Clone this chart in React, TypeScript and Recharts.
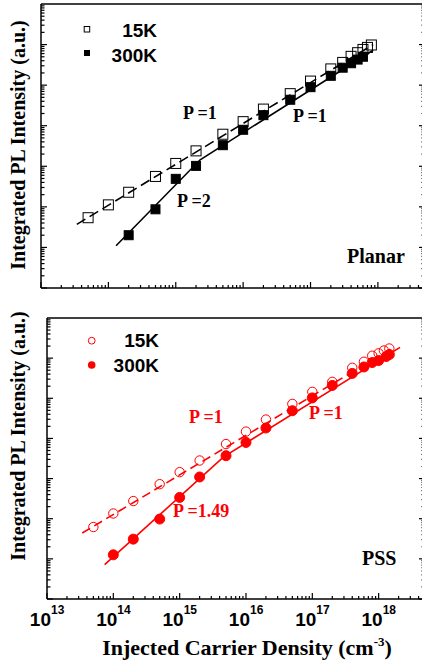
import React from 'react';
import { ComposedChart, Scatter, XAxis, YAxis } from 'recharts';

// x axis decades and their exponent labels
const xDecades = [1e13, 1e14, 1e15, 1e16, 1e17, 1e18];
const xExponents = ['13', '14', '15', '16', '17', '18'];
const xDomain = [1e13, 5e18];
const yDecades = [1, 10, 100, 1e3, 1e4, 1e5, 1e6];
const yDomain = [1, 1e7];

// Planar sample
const planar15K = [
  { x: 5e13, y: 54 }, { x: 1e14, y: 112 }, { x: 2e14, y: 229 }, { x: 5e14, y: 562 },
  { x: 1e15, y: 1175 }, { x: 2e15, y: 2399 }, { x: 5e15, y: 6166 }, { x: 1e16, y: 12590 },
  { x: 2e16, y: 25700 }, { x: 5e16, y: 61660 }, { x: 1e17, y: 125900 }, { x: 2e17, y: 251200 },
  { x: 3e17, y: 363100 }, { x: 4e17, y: 512900 }, { x: 5e17, y: 631000 }, { x: 6e17, y: 758600 },
  { x: 7e17, y: 851100 }, { x: 8e17, y: 977200 },
];
const planar300K = [
  { x: 2e14, y: 20 }, { x: 5e14, y: 87 }, { x: 1e15, y: 490 }, { x: 2e15, y: 1023 },
  { x: 5e15, y: 3311 }, { x: 1e16, y: 7943 }, { x: 2e16, y: 18200 }, { x: 5e16, y: 43650 },
  { x: 1e17, y: 89130 }, { x: 2e17, y: 169800 }, { x: 3e17, y: 269200 }, { x: 4e17, y: 346700 },
  { x: 5e17, y: 426600 }, { x: 6e17, y: 501200 },
];
const planarFit15K = [{ x: 3.4e13, y: 37 }, { x: 8.5e17, y: 1000000 }];
const planarFit300K = [{ x: 1.3e14, y: 11 }, { x: 2.3e15, y: 1445 }, { x: 8.5e17, y: 724400 }];

// PSS sample
const pss15K = [
  { x: 5e13, y: 62 }, { x: 1e14, y: 135 }, { x: 2e14, y: 275 }, { x: 5e14, y: 724 },
  { x: 1e15, y: 1445 }, { x: 2e15, y: 2818 }, { x: 5e15, y: 7244 }, { x: 1e16, y: 14790 },
  { x: 2e16, y: 29510 }, { x: 5e16, y: 72440 }, { x: 1e17, y: 144500 }, { x: 2e17, y: 257000 },
  { x: 4e17, y: 575400 }, { x: 6e17, y: 812800 }, { x: 8e17, y: 1148000 }, { x: 1e18, y: 1318000 },
  { x: 1.2e18, y: 1549000 }, { x: 1.45e18, y: 1738000 },
];
const pss300K = [
  { x: 1e14, y: 12.6 }, { x: 2e14, y: 31 }, { x: 5e14, y: 98 }, { x: 1e15, y: 339 },
  { x: 2e15, y: 1096 }, { x: 5e15, y: 3715 }, { x: 1e16, y: 7943 }, { x: 2e16, y: 18200 },
  { x: 5e16, y: 48980 }, { x: 1e17, y: 102300 }, { x: 2e17, y: 208900 }, { x: 4e17, y: 416900 },
  { x: 6e17, y: 602600 }, { x: 8e17, y: 776200 }, { x: 1e18, y: 871000 }, { x: 1.3e18, y: 1096000 },
  { x: 1.45e18, y: 1230000 },
];
const pssFit15K = [{ x: 3.4e13, y: 44 }, { x: 1.5e18, y: 1660000 }];
const pssFit300K = [{ x: 7.4e13, y: 7.2 }, { x: 4.6e15, y: 3467 }, { x: 2.1e18, y: 1862000 }];

const RED = '#ff0000';
const SERIF = '"Liberation Serif", "Times New Roman", serif';
const SANS = '"Liberation Sans", Arial, sans-serif';

const withMinors = (decades: number[], domain: number[]) =>
  decades
    .flatMap((d) => [1, 2, 3, 4, 5, 6, 7, 8, 9].map((m) => d * m))
    .filter((v) => v >= domain[0] && v <= domain[1]);

const xTicks = withMinors(xDecades, xDomain);
const yTicks = withMinors(yDecades, yDomain);

const isDecade = (v: number) => Math.abs(Math.log10(v) - Math.round(Math.log10(v))) < 1e-6;

const makeXTick = (dir: number, showLabel: boolean) => (props: any) => {
  const { x, y, payload } = props;
  const major = isDecade(payload.value);
  const idx = xDecades.findIndex((d) => Math.abs(d - payload.value) / d < 1e-6);
  return (
    <g>
      <line x1={x} y1={y} x2={x} y2={y + dir * (major ? 6 : 3)} stroke="#000" strokeWidth={1.2} />
      {showLabel && major && idx >= 0 && (
        <g fontFamily={SANS} fontWeight="bold" fill="#000">
          <text x={x + 4} y={y + 27} textAnchor="end" fontSize={19}>10</text>
          <text x={x + 4} y={y + 15} textAnchor="start" fontSize={12}>{xExponents[idx]}</text>
        </g>
      )}
    </g>
  );
};

const makeYTick = (dir: number) => (props: any) => {
  const { x, y, payload } = props;
  const major = isDecade(payload.value);
  return <line x1={x} y1={y} x2={x + dir * (major ? 6 : 3.5)} y2={y} stroke="#000" strokeWidth={1.2} />;
};

const squareShape = (size: number, filled: boolean) => (props: any) => {
  const { cx, cy } = props;
  return (
    <rect x={cx - size / 2} y={cy - size / 2} width={size} height={size}
      fill={filled ? '#000' : 'none'} stroke="#000" strokeWidth={1} />
  );
};

const circleShape = (r: number, filled: boolean) => (props: any) => {
  const { cx, cy } = props;
  return <circle cx={cx} cy={cy} r={r} fill={filled ? RED : 'none'} stroke={RED} strokeWidth={1} />;
};

const noShape = () => <g />;

const axisLine = { stroke: '#000', strokeWidth: 1.5 };

type PanelProps = {
  top: number;
  height: number;
  margin: { top: number; left: number; right: number; bottom: number };
  labels: boolean;
  children: React.ReactNode;
};

// axes are 1px wide bands, so margins are one pixel short of the plot box
const Panel = ({ top, height, margin, labels, children }: PanelProps) => (
  <div style={{ position: 'absolute', left: 0, top }}>
    <ComposedChart width={430} height={height} margin={margin}>
      <XAxis dataKey="x" type="number" scale="log" domain={xDomain} allowDataOverflow
        ticks={xTicks} interval={0} height={1} tickSize={0} tickMargin={0} tickLine={false}
        axisLine={axisLine} tick={makeXTick(-1, labels)} />
      <XAxis xAxisId="top" orientation="top" type="number" scale="log" domain={xDomain} allowDataOverflow
        ticks={xTicks} interval={0} height={1} tickSize={0} tickMargin={0} tickLine={false}
        axisLine={axisLine} tick={makeXTick(1, false)} />
      <YAxis dataKey="y" type="number" scale="log" domain={yDomain} allowDataOverflow
        ticks={yTicks} interval={0} width={1} tickSize={0} tickMargin={0} tickLine={false}
        axisLine={axisLine} tick={makeYTick(1)} />
      <YAxis yAxisId="right" orientation="right" type="number" scale="log" domain={yDomain} allowDataOverflow
        ticks={yTicks} interval={0} width={1} tickSize={0} tickMargin={0} tickLine={false}
        axisLine={axisLine} tick={makeYTick(-1)} />
      {children}
    </ComposedChart>
  </div>
);

export default function App() {
  return (
    <div style={{ position: 'absolute', left: 0, top: 0, width: 422, height: 664, overflow: 'hidden', background: '#fff' }}>
      <Panel top={0} height={300} margin={{ top: 3, left: 40, right: 4, bottom: 11 }} labels={false}>
        <Scatter data={planarFit15K} fill="none" shape={noShape} isAnimationActive={false}
          line={{ stroke: '#000', strokeWidth: 1.6, strokeDasharray: '10 5' }} />
        <Scatter data={planarFit300K} fill="none" shape={noShape} isAnimationActive={false}
          line={{ stroke: '#000', strokeWidth: 1.6 }} />
        <Scatter data={planar15K} shape={squareShape(10, false)} isAnimationActive={false} />
        <Scatter data={planar300K} shape={squareShape(9, true)} isAnimationActive={false} />
      </Panel>
      <Panel top={300} height={364} margin={{ top: 17, left: 46, right: 4, bottom: 64 }} labels>
        <Scatter data={pssFit15K} fill="none" shape={noShape} isAnimationActive={false}
          line={{ stroke: RED, strokeWidth: 1.6, strokeDasharray: '9 5' }} />
        <Scatter data={pssFit300K} fill="none" shape={noShape} isAnimationActive={false}
          line={{ stroke: RED, strokeWidth: 1.6 }} />
        <Scatter data={pss15K} shape={circleShape(4.7, false)} isAnimationActive={false} />
        <Scatter data={pss300K} shape={circleShape(5, true)} isAnimationActive={false} />
      </Panel>
      <svg width={422} height={664} style={{ position: 'absolute', left: 0, top: 0, pointerEvents: 'none' }}>
        <g fontFamily={SERIF} fontWeight="bold">
          <text transform="translate(24.5,145) rotate(-90)" textAnchor="middle" fontSize={20}>Integrated PL Intensity (a.u.)</text>
          <text transform="translate(24.5,436) rotate(-90)" textAnchor="middle" fontSize={20}>Integrated PL Intensity (a.u.)</text>
          <text x={247} y={655} textAnchor="middle" fontSize={22}>
            Injected Carrier Density (cm<tspan fontSize={13} dy={-9}>-3</tspan><tspan dy={9}>)</tspan>
          </text>
          <text x={183} y={119} fontSize={18}>P =1</text>
          <text x={293} y={121.7} fontSize={18}>P =1</text>
          <text x={177} y={207.3} fontSize={18}>P =2</text>
          <text x={347} y={263} fontSize={20}>Planar</text>
          <text x={189} y={423} fontSize={18} fill={RED}>P =1</text>
          <text x={309} y={419} fontSize={18} fill={RED}>P =1</text>
          <text x={173} y={517} fontSize={18} fill={RED}>P =1.49</text>
          <text x={362} y={565} fontSize={20}>PSS</text>
        </g>
        <g fontFamily={SANS} fontWeight="bold" fontSize={19}>
          <rect x={84.2} y={26.5} width={5.5} height={5.5} fill="none" stroke="#000" strokeWidth={1} />
          <text x={157} y={36.7} textAnchor="end">15K</text>
          <rect x={84} y={50} width={6} height={6} fill="#000" />
          <text x={157} y={62} textAnchor="end">300K</text>
          <circle cx={91.7} cy={340.7} r={3.4} fill="none" stroke={RED} strokeWidth={1} />
          <text x={159} y={347.3} textAnchor="end">15K</text>
          <circle cx={91.7} cy={365} r={3.8} fill={RED} />
          <text x={159} y={372.3} textAnchor="end">300K</text>
        </g>
      </svg>
    </div>
  );
}
